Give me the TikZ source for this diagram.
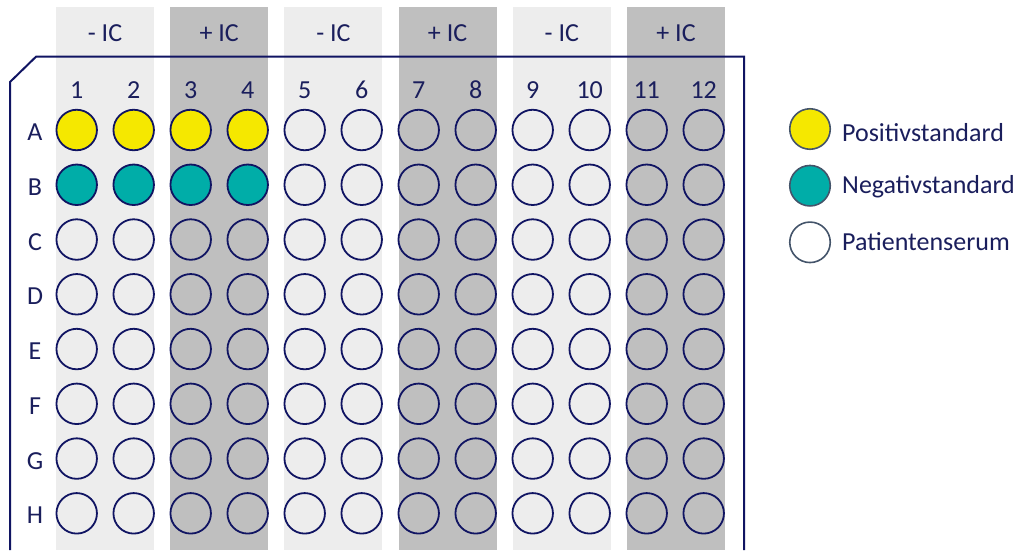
\documentclass[tikz,border=0pt]{standalone}
\usepackage{fontspec}
\setmainfont{Carlito}
\definecolor{navy}{RGB}{16,20,98}
\definecolor{txt}{RGB}{26,30,92}
\definecolor{lightband}{RGB}{237,237,237}
\definecolor{darkband}{RGB}{191,191,191}
\definecolor{posY}{RGB}{245,232,0}
\definecolor{negT}{RGB}{0,173,168}
\definecolor{legline}{RGB}{68,84,106}
\tikzset{
  lbl/.style={text=txt,font=\fontsize{26}{30}\selectfont,inner sep=0pt,anchor=base},
  well/.style={circle,draw=navy,line width=1.8pt,minimum size=40.5pt,inner sep=0pt},
  legc/.style={circle,draw=legline,line width=1.6pt,minimum size=40.5pt,inner sep=0pt},
  plate/.style={draw=navy,line width=2pt},
}
\begin{document}
\begin{tikzpicture}[x=1pt,y=-1pt]
\useasboundingbox (0,0) rectangle (1026,550);
% column bands
\foreach \k/\lab/\col in {0/- IC/lightband,1/+ IC/darkband,2/- IC/lightband,3/+ IC/darkband,4/- IC/lightband,5/+ IC/darkband}{
  \pgfmathsetmacro\bx{56+\k*114.2}
  \fill[\col] (\bx,7) rectangle (\bx+98,550);
  \node[lbl] (band\k) at (\bx+49,41.5) {\lab};
}
% plate outline
\draw[plate] (744,550) -- (744,56.7) -- (36,56.7) -- (10,82) -- (10,550);
% column numbers
\foreach \c in {1,...,12}{
  \pgfmathsetmacro\wx{76.7+(\c-1)*57}
  \node[lbl] (col\c) at (\wx,98) {\c};
}
% rows and wells
\foreach \r [count=\i from 0] in {A,B,C,D,E,F,G,H}{
  \node[lbl] (row\r) at (35,130+\i*54.76+10.5) {\r};
  \foreach \c in {1,...,12}{
    \pgfmathsetmacro\wx{76.7+(\c-1)*57}
    \def\wf{none}
    \ifnum\c<5 \ifnum\i=0 \def\wf{posY}\fi \ifnum\i=1 \def\wf{negT}\fi\fi
    \node[well,fill=\wf] (w\r\c) at (\wx,130+\i*54.76) {};
  }
}
% legend
\node[legc,fill=posY] (lp) at (810,129) {};
\node[lbl,anchor=base west] (lpt) at (842,141.5) {Positivstandard};
\node[legc,fill=negT] (ln) at (810,185.7) {};
\node[lbl,anchor=base west] (lnt) at (842,193) {Negativstandard};
\node[legc,fill=white] (lpa) at (810,242.3) {};
\node[lbl,anchor=base west] (lpat) at (842,250) {Patientenserum};
\end{tikzpicture}
\end{document}
